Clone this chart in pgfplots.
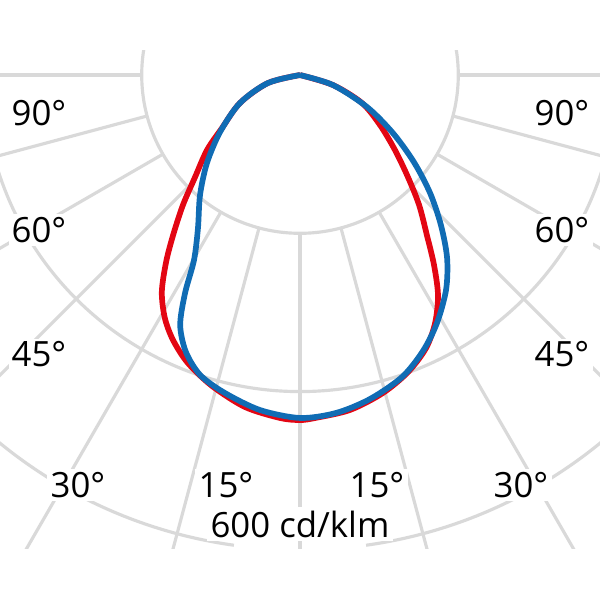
\documentclass[border=0pt]{standalone}
\usepackage{fontspec}
\setmainfont{Open Sans}
\usepackage{pgfplots}
\pgfplotsset{compat=1.18}
\usepgfplotslibrary{polar}

\definecolor{gridgray}{RGB}{217,217,217}
\definecolor{ldtred}{RGB}{227,6,19}
\definecolor{ldtblue}{RGB}{16,108,180}

% ring radii in canvas units (axis: 758.1 cd/klm over 10cm)
\def\rA{2.638cm}
\def\rB{5.276cm}
\def\rC{7.914cm}

\begin{document}
\begin{tikzpicture}[
    lbl/.style={anchor=base, fill=white, inner sep=1.5pt,
        font=\fontsize{16.5}{20}\selectfont},
]
\begin{axis}[
    hide axis,
    scale only axis,
    width=10cm, height=10cm,
    xmin=-379, xmax=379,
    ymin=-663.3, ymax=94.8,
    clip=false,
]
\path (axis cs:-379,-663.3) rectangle (axis cs:379,94.8);

% grid
\begin{scope}
    \clip (axis cs:-379,31.6) rectangle (axis cs:379,-597.6);
    \draw[gridgray, line width=1.5pt] (axis cs:0,0) circle[radius=\rA];
    \draw[gridgray, line width=1.5pt] (axis cs:0,0) circle[radius=\rB];
    \draw[gridgray, line width=1.5pt] (axis cs:0,0) ++(-98:\rC)
        arc[start angle=-98, end angle=-270, radius=\rC];
    \draw[gridgray, line width=1.5pt] (axis cs:0,0) ++(-82:\rC)
        arc[start angle=-82, end angle=90, radius=\rC];
    \pgfplotsinvokeforeach{-180,-165,-150,-135,-120,-105,-90,-75,-60,-45,-30,-15,0}{
        \draw[gridgray, line width=1.5pt] (axis cs:0,0) ++(#1:\rA) -- ++(#1:8cm);
    }
\end{scope}

% C0-C180 (angle, cd/klm)
\addplot[ldtred, line width=2.7pt, smooth, data cs=polar] coordinates {
    (-180,0) (-166.0,41.7) (-155.0,83.7) (-145.8,119.1) (-141.1,150.9)
    (-135.8,184.9) (-132.0,221.0) (-128.4,258.1) (-125.6,290.6)
    (-122.5,324.9) (-119.1,351.2) (-115.6,371.3) (-111.3,390.4)
    (-105.8,408.3) (-99.4,425.2) (-93.3,434.1) (-90,435.9)
    (-87.5,433.8) (-81.5,427.9) (-75.4,415.2) (-70.0,399.3)
    (-65.2,379.9) (-61.4,356.7) (-57.9,328.1) (-54.8,293.7)
    (-51.6,258.1) (-47.5,222.7) (-43.4,187.7) (-38.3,152.9)
    (-32.0,119.2) (-24.3,86.0) (-16.9,43.6) (0,0)
};

% C90-C270 (angle, cd/klm)
\addplot[ldtblue, line width=2.7pt, smooth, data cs=polar] coordinates {
    (-180,0) (-166.0,41.7) (-155.0,83.7) (-144.5,124.1) (-136.6,161.8)
    (-129.8,197.3) (-123.7,232.3) (-119.8,269.4) (-117.8,311.4)
    (-115.6,350.3) (-112.4,378.4) (-108.4,399.5) (-103.3,412.8)
    (-96.8,426.3) (-90,433.3) (-83.9,429.4) (-77.8,418.8)
    (-71.3,402.7) (-66.0,381.8) (-61.1,358.0) (-55.8,328.3)
    (-51.2,296.6) (-46.8,260.1) (-42.2,221.8) (-37.4,181.2)
    (-32.0,138.5) (-25.5,93.8) (-16.9,43.6) (0,0)
};

% angle labels
\node[lbl] at (axis cs:-329.7,-63.2) {90°};
\node[lbl] at (axis cs:331,-63.2) {90°};
\node[lbl] at (axis cs:-329.7,-211) {60°};
\node[lbl] at (axis cs:331,-211) {60°};
\node[lbl] at (axis cs:-329.7,-368.9) {45°};
\node[lbl] at (axis cs:331,-368.9) {45°};
\node[lbl] at (axis cs:-280.5,-533.2) {30°};
\node[lbl] at (axis cs:279.2,-533.2) {30°};
\node[lbl] at (axis cs:-93.5,-533.2) {15°};
\node[lbl] at (axis cs:97.3,-533.2) {15°};
\node[lbl] at (axis cs:0,-583.7) {600 cd/klm};

\end{axis}
\end{tikzpicture}
\end{document}
